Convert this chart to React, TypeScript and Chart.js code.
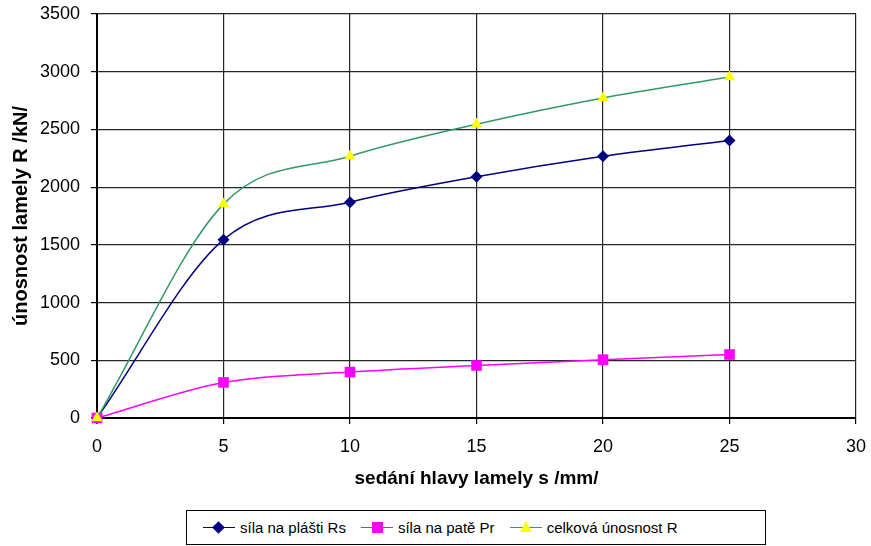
import React, { useEffect, useRef } from "react";
import { Chart, registerables } from "chart.js";

Chart.register(...registerables);

const settlement = [0, 5, 10, 15, 20, 25];
const shaftForce = [0, 1545, 1870, 2090, 2268, 2405];
const baseForce = [0, 308, 398, 455, 505, 550];
const totalForce = [0, 1853, 2268, 2545, 2773, 2955];

const seriesNames = ["síla na plášti Rs", "síla na patě Pr", "celková únosnost R"];
const xTicks = [0, 5, 10, 15, 20, 25, 30];
const yTicks = [0, 500, 1000, 1500, 2000, 2500, 3000, 3500];

const xTitle = "sedání hlavy lamely s /mm/";
const yTitle = "únosnost lamely R /kN/";

const FONT = "'Liberation Sans', Arial, sans-serif";

const toPoints = (vals: number[]) => settlement.map((x, i) => ({ x, y: vals[i] }));

export default function App() {
  const ref = useRef<HTMLCanvasElement | null>(null);

  useEffect(() => {
    document.body.style.margin = "0";
    const ctx = ref.current;
    if (!ctx) return;
    const chart = new Chart(ctx, {
      type: "line",
      data: {
        datasets: [
          {
            label: seriesNames[0],
            data: toPoints(shaftForce),
            borderColor: "#000080",
            backgroundColor: "#000080",
            borderWidth: 1.5,
            pointStyle: "rectRot",
            pointRadius: 6,
            pointBorderWidth: 0,
            cubicInterpolationMode: "monotone",
            clip: false,
            order: 2,
          },
          {
            label: seriesNames[1],
            data: toPoints(baseForce),
            borderColor: "#FF00FF",
            backgroundColor: "#FF00FF",
            borderWidth: 1.5,
            pointStyle: "rect",
            pointRadius: 7.5,
            pointBorderWidth: 0,
            cubicInterpolationMode: "monotone",
            clip: false,
            order: 1,
          },
          {
            label: seriesNames[2],
            data: toPoints(totalForce),
            borderColor: "#339966",
            backgroundColor: "#FFFF00",
            borderWidth: 1.5,
            pointStyle: "triangle",
            pointRadius: 6.5,
            pointBorderWidth: 0,
            cubicInterpolationMode: "monotone",
            clip: false,
            order: 0,
          },
        ],
      },
      options: {
        animation: false,
        responsive: false,
        maintainAspectRatio: false,
        layout: { padding: { left: 0, right: 15, top: 14, bottom: 0 } },
        plugins: {
          legend: { display: false },
          tooltip: { enabled: false },
        },
        scales: {
          x: {
            type: "linear",
            min: 0,
            max: 30,
            afterBuildTicks: (s: any) => {
              s.ticks = xTicks.map((v) => ({ value: v }));
            },
            afterFit: (s: any) => {
              s.height = 82;
              s.paddingLeft = 0;
              s.paddingRight = 0;
            },
            ticks: {
              color: "#000",
              font: { family: FONT, size: 18 },
              padding: 12,
              maxRotation: 0,
              callback: (v: any) => String(v),
            },
            grid: { color: "#262626", lineWidth: 1.2, tickLength: 6, tickColor: "#000" },
            border: { color: "#000", width: 2 },
            title: {
              display: true,
              text: xTitle,
              color: "#000",
              font: { family: FONT, size: 19, weight: "bold" },
              padding: { top: 0, bottom: 10 },
            },
          },
          y: {
            type: "linear",
            min: 0,
            max: 3500,
            afterBuildTicks: (s: any) => {
              s.ticks = yTicks.map((v) => ({ value: v }));
            },
            afterFit: (s: any) => {
              s.width = 97;
              s.paddingTop = 0;
              s.paddingBottom = 0;
            },
            ticks: {
              color: "#000",
              font: { family: FONT, size: 18 },
              padding: 11,
              callback: (v: any) => String(v),
            },
            grid: { color: "#262626", lineWidth: 1.2, tickLength: 6, tickColor: "#000" },
            border: { color: "#000", width: 2 },
            title: {
              display: true,
              text: yTitle,
              color: "#000",
              font: { family: FONT, size: 20, weight: "bold" },
              padding: { top: 9, bottom: 0 },
            },
          },
        },
      },
    });
    return () => chart.destroy();
  }, []);

  const legendItems = [
    { color: "#000080", marker: "diamond", markerColor: "#000080" },
    { color: "#FF00FF", marker: "square", markerColor: "#FF00FF" },
    { color: "#339966", marker: "triangle", markerColor: "#FFFF00" },
  ];

  const markerEl = (m: string, c: string) => {
    if (m === "diamond")
      return (
        <div
          style={{
            position: "absolute",
            left: 11,
            top: -5.5,
            width: 9,
            height: 9,
            background: c,
            transform: "rotate(45deg)",
          }}
        />
      );
    if (m === "square")
      return (
        <div style={{ position: "absolute", left: 11, top: -6, width: 11, height: 11, background: c }} />
      );
    return (
      <div
        style={{
          position: "absolute",
          left: 10,
          top: -7,
          width: 0,
          height: 0,
          borderLeft: "6px solid transparent",
          borderRight: "6px solid transparent",
          borderBottom: "11px solid " + c,
        }}
      />
    );
  };

  return (
    <div style={{ position: "relative", width: 871, height: 546, background: "#fff" }}>
      <canvas ref={ref} width={871} height={500} style={{ position: "absolute", left: 0, top: 0 }} />
      <div
        style={{
          position: "absolute",
          left: 186,
          top: 510,
          width: 580,
          height: 35,
          border: "1px solid #000",
          display: "flex",
          alignItems: "center",
          justifyContent: "flex-start",
          paddingLeft: 16,
          fontFamily: FONT,
          fontSize: 15,
          color: "#000",
          gap: 15,
          boxSizing: "border-box",
        }}
      >
        {legendItems.map((it, i) => (
          <div key={i} style={{ display: "flex", alignItems: "center" }}>
            <div style={{ position: "relative", width: 32, height: 0, borderTop: "1.5px solid " + it.color, marginRight: 5 }}>
              {markerEl(it.marker, it.markerColor)}
            </div>
            <span>{seriesNames[i]}</span>
          </div>
        ))}
      </div>
    </div>
  );
}
